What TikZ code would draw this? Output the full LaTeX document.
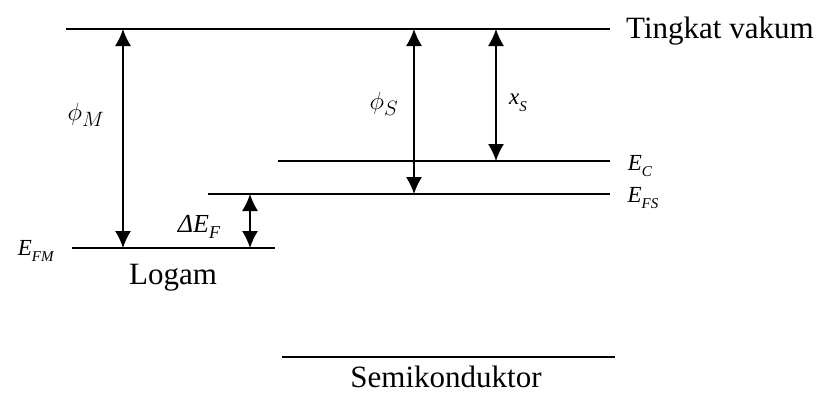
\documentclass[tikz,border=0pt]{standalone}
\usepackage{fontspec}
\setmainfont{Liberation Serif}
\usetikzlibrary{arrows.meta}
\tikzset{
  level/.style={line width=1.6pt},
  gap/.style={line width=1.5pt,{Latex[length=17pt,width=16pt]}-{Latex[length=17pt,width=16pt]}},
  txt/.style={font=\fontsize{31}{36}\selectfont,inner sep=0pt},
  sym/.style={font=\fontsize{23}{28}\selectfont,inner sep=0pt},
  bigsym/.style={font=\fontsize{30}{34}\selectfont,inner sep=0pt}
}
\newcommand{\EE}[1]{\textit{E}\raisebox{-0.3em}{\fontsize{15}{18}\selectfont\textit{#1}}}
\begin{document}
\begin{tikzpicture}[x=1pt,y=-1pt]
\useasboundingbox (0,0) rectangle (819,394);
% levels
\coordinate (vacL) at (66,29);  \coordinate (vacR) at (610,29);
\coordinate (ecL) at (278,161); \coordinate (ecR) at (610,161);
\coordinate (efsL) at (208,194); \coordinate (efsR) at (610,194);
\coordinate (efmL) at (72,248); \coordinate (efmR) at (275,248);
\coordinate (semL) at (282,357); \coordinate (semR) at (615,357);
\draw[level] (vacL) -- (vacR);
\draw[level] (ecL) -- (ecR);
\draw[level] (efsL) -- (efsR);
\draw[level] (efmL) -- (efmR);
\draw[level] (semL) -- (semR);
% arrow ends
\coordinate (pmT) at (123,29);  \coordinate (pmB) at (123,248);
\coordinate (dfT) at (250,194); \coordinate (dfB) at (250,248);
\coordinate (psT) at (414,29);  \coordinate (psB) at (414,194);
\coordinate (xsT) at (496,29);  \coordinate (xsB) at (496,161);
\draw[gap] (pmT) -- (pmB);
\draw[gap] (dfT) -- (dfB);
\draw[gap] (psT) -- (psB);
\draw[gap] (xsT) -- (xsB);
% labels
\node[txt,anchor=west] (vac) at (626,31) {Tingkat vakum};
\node[txt] (logam) at (173,278) {Logam};
\node[txt] (semi) at (446,377) {Semikonduktor};
\node[bigsym] (phim) at (86,115) {$\phi_{M}$};
\node[bigsym] (phis) at (384,104) {$\phi_{S}$};
\node[sym] (xs) at (518,103) {\textit{x}\raisebox{-0.3em}{\fontsize{15}{18}\selectfont\textit{S}}};
\node[sym] (ec) at (640,166) {\EE{C}};
\node[sym] (efs) at (643,198) {\EE{FS}};
\node[sym] (efm) at (36,251) {\EE{FM}};
\node[font=\fontsize{26}{30}\selectfont,inner sep=0pt] (def) at (199,227) {\textit{ΔE}\raisebox{-0.25em}{\fontsize{18}{20}\selectfont\textit{F}}};
\end{tikzpicture}
\end{document}
